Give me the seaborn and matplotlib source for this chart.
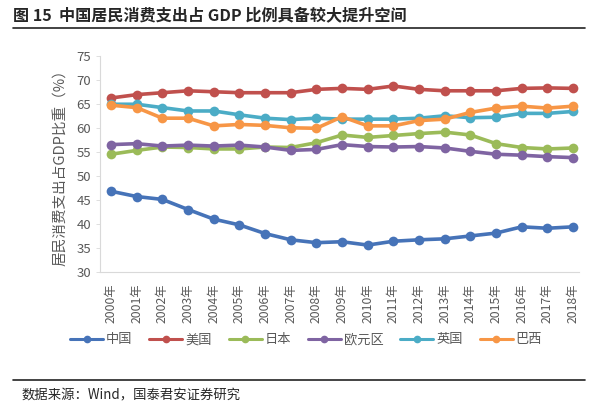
import pandas as pd
import seaborn as sns
import matplotlib.pyplot as plt
from matplotlib.lines import Line2D

years = [f"{y}年" for y in range(2000, 2019)]
china = [46.8, 45.7, 45.1, 43.0, 41.0, 39.8, 38.0, 36.7, 36.1, 36.3,
         35.6, 36.4, 36.7, 36.9, 37.5, 38.1, 39.4, 39.1, 39.4]
usa = [66.2, 66.9, 67.3, 67.7, 67.5, 67.3, 67.3, 67.3, 68.0, 68.2,
       68.0, 68.7, 68.0, 67.7, 67.7, 67.7, 68.2, 68.3, 68.2]
japan = [54.5, 55.3, 56.0, 55.9, 55.6, 55.6, 56.0, 55.9, 56.9, 58.5,
         58.0, 58.4, 58.8, 59.1, 58.5, 56.7, 55.9, 55.6, 55.8]
euro = [56.5, 56.7, 56.2, 56.4, 56.2, 56.4, 56.0, 55.3, 55.5, 56.5,
        56.1, 56.0, 56.1, 55.8, 55.1, 54.5, 54.3, 54.0, 53.8]
uk = [64.9, 64.9, 64.2, 63.5, 63.5, 62.7, 62.0, 61.7, 62.0, 61.8,
      61.8, 61.8, 62.0, 62.5, 62.1, 62.2, 63.0, 63.0, 63.4]
brazil = [64.7, 64.2, 62.0, 62.0, 60.4, 60.7, 60.5, 60.0, 59.9, 62.3,
          60.4, 60.4, 61.5, 61.8, 63.2, 64.1, 64.5, 64.1, 64.5]

names = ["中国", "美国", "日本", "欧元区", "英国", "巴西"]
colors = ["#4673B8", "#C0504D", "#9BBB59", "#7F64A2", "#4BACC6", "#F79646"]

df = pd.DataFrame({"year": years, "中国": china, "美国": usa, "日本": japan,
                   "欧元区": euro, "英国": uk, "巴西": brazil})
long = df.melt(id_vars="year", var_name="country", value_name="share")
long["idx"] = long["year"].map({y: i for i, y in enumerate(years)})

sns.set_style("white")
plt.rcParams['font.family'] = ['Noto Sans CJK SC', 'DejaVu Sans']

fig = plt.figure(figsize=(6, 4.09), dpi=100)
ax = fig.add_axes([100/600, 1-272/409, 479/600, 216.3/409])

sns.lineplot(data=long, x="idx", y="share", hue="country", hue_order=names,
             palette=colors, marker="o", markersize=7, markeredgewidth=0,
             linewidth=2.6, ax=ax, legend=False)

ax.set_xlim(-0.43, 18.23)
ax.set_ylim(30, 75)
ax.set_yticks(range(30, 80, 5))
ax.set_xticks(range(len(years)))
ax.set_xticklabels(years, rotation=90, fontsize=8.8, color="#595959")
ax.tick_params(axis="y", labelsize=9.5, colors="#595959", length=3, width=0.6,
               direction="out", left=True, color="#D9D9D9")
ax.tick_params(axis="x", length=0, pad=8)
ax.set_xlabel("")
ax.set_ylabel("居民消费支出占GDP比重（%）", fontsize=10.5, color="#595959", labelpad=6)
for s in ["top", "right"]:
    ax.spines[s].set_visible(False)
for s in ["left", "bottom"]:
    ax.spines[s].set_color("#D9D9D9")
    ax.spines[s].set_linewidth(0.8)

handles = [Line2D([0], [0], color=c, lw=2.2, marker="o", markersize=4.5) for c in colors]
fig.legend(handles, names, loc="center", bbox_to_anchor=(0.51, 1-340/409), ncol=6,
           frameon=False, fontsize=9.5, labelcolor="#595959", handlelength=2.5,
           handletextpad=0.2, columnspacing=1.3)

fig.text(13/600, 1-15/409, "图 15  中国居民消费支出占 GDP 比例具备较大提升空间",
         fontsize=11.6, fontweight="bold", va="center", ha="left")
fig.add_artist(Line2D([13/600, 585/600], [1-28/409, 1-28/409], color="#222222", lw=1.2))
fig.add_artist(Line2D([13/600, 585/600], [1-380/409, 1-380/409], color="#222222", lw=1.2))
fig.text(22/600, 1-395/409, "数据来源：Wind，国泰君安证券研究", fontsize=9.6, va="center", ha="left")

plt.savefig("out.png", dpi=100)
